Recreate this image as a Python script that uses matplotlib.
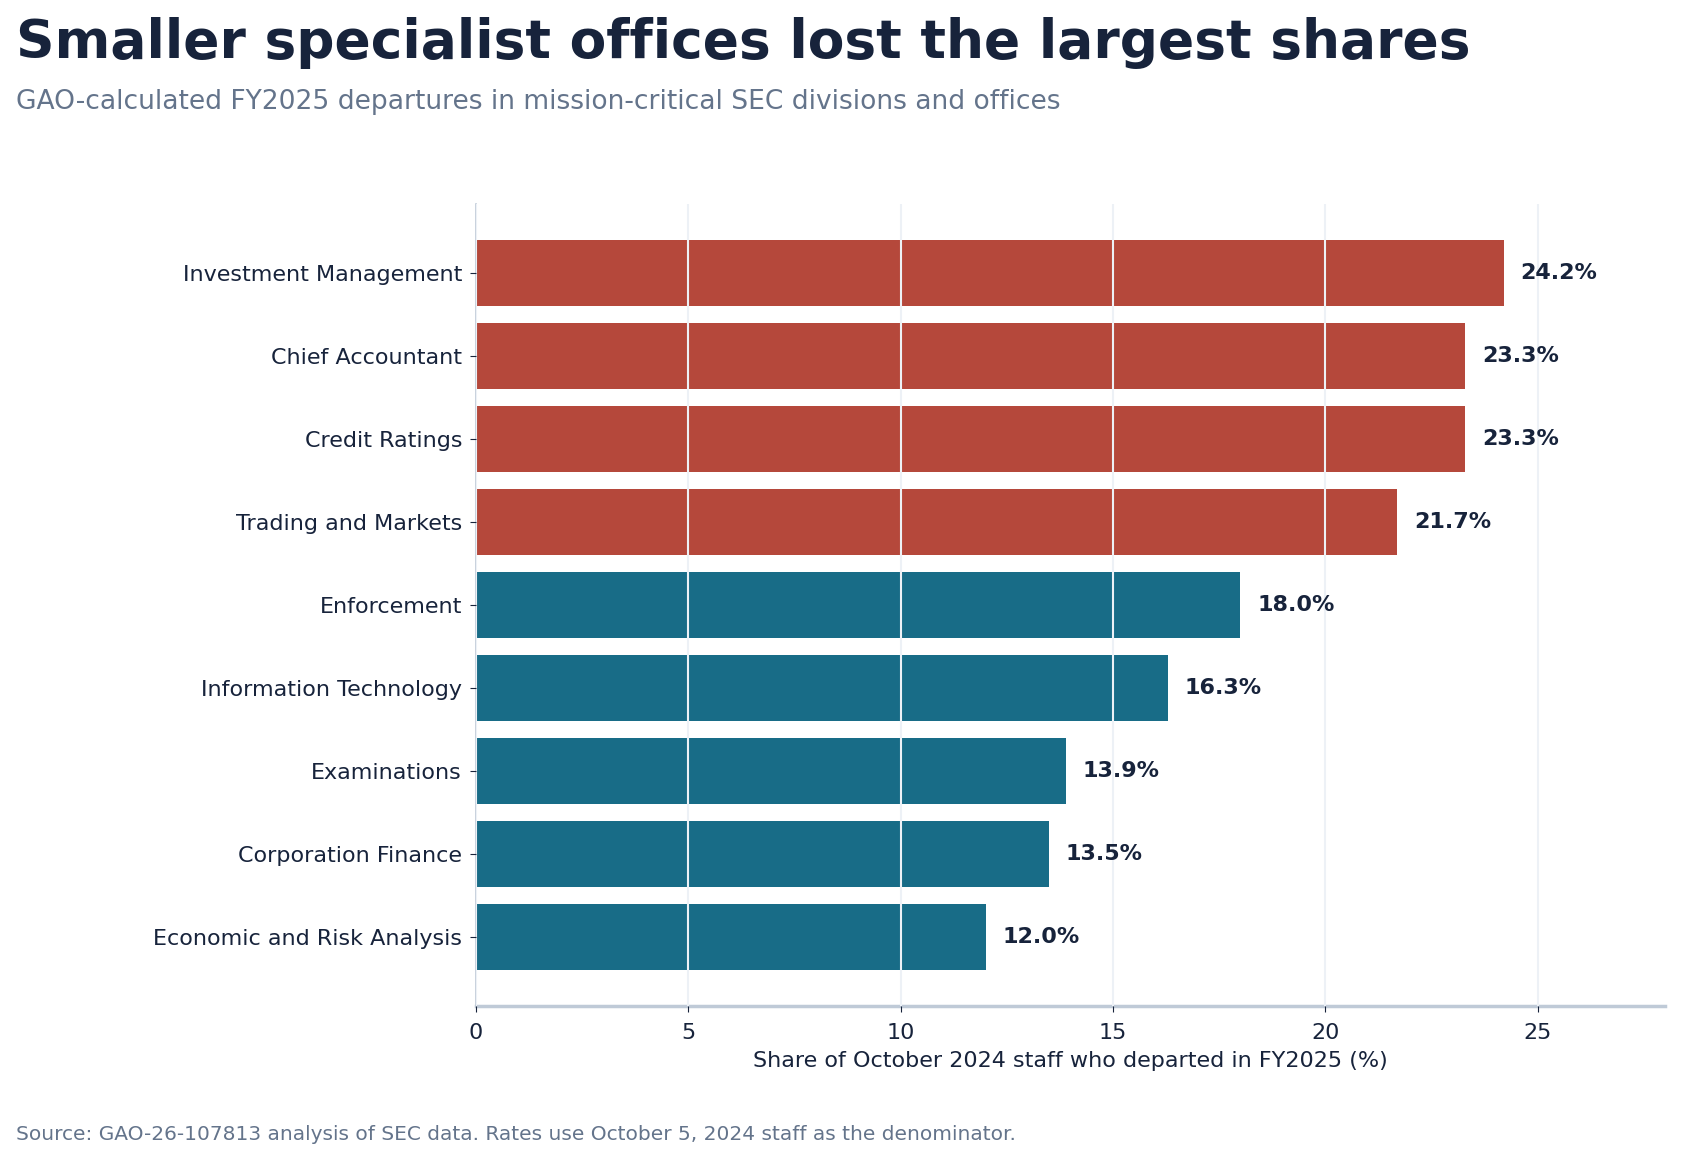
import matplotlib
matplotlib.use("Agg")
import matplotlib.pyplot as plt

offices = ["Investment Management", "Chief Accountant", "Credit Ratings",
           "Trading and Markets", "Enforcement", "Information Technology",
           "Examinations", "Corporation Finance", "Economic and Risk Analysis"]
rates = [24.2, 23.3, 23.3, 21.7, 18.0, 16.3, 13.9, 13.5, 12.0]
highlight = [True, True, True, True, False, False, False, False, False]

red = "#b5483b"
teal = "#186c87"
navy = "#17233b"
grey = "#64748b"
spine = "#bfcad7"

plt.rcParams['font.family'] = ['DejaVu Sans']

fig = plt.figure(figsize=(16.83, 11.62), dpi=100)
ax = fig.add_axes([476 / 1683, 1 - 1006 / 1162, (1665 - 476) / 1683, (1006 - 204) / 1162])

ypos = list(range(len(offices)))
colors = [red if h else teal for h in highlight]
ax.barh(ypos, rates, height=0.8, color=colors, zorder=1)

for y, r in zip(ypos, rates):
    ax.annotate(f"{r:.1f}%", (r, y), xytext=(12, 0), textcoords="offset points",
                va="center", ha="left", fontsize=16, fontweight="bold", color=navy)

ax.set_yticks(ypos)
ax.set_yticklabels(offices, fontsize=16, color=navy)
ax.set_ylim(len(offices) - 1 + 0.835, -0.835)
ax.set_xlim(0, 28)
ax.set_xticks([0, 5, 10, 15, 20, 25])
ax.tick_params(axis="x", labelsize=16, labelcolor=navy, color=navy, length=4, pad=8)
ax.tick_params(axis="y", color=navy, length=4, pad=6)
ax.set_xlabel("Share of October 2024 staff who departed in FY2025 (%)", fontsize=16, color=navy, labelpad=6)

ax.set_axisbelow(False)
ax.grid(axis="x", color="#edf1f6", linewidth=1.5)
ax.grid(axis="y", visible=False)

for s in ["top", "right"]:
    ax.spines[s].set_visible(False)
ax.spines["left"].set_color(spine)
ax.spines["left"].set_linewidth(1.2)
ax.spines["bottom"].set_color(spine)
ax.spines["bottom"].set_linewidth(2.5)

fig.text(16 / 1683, 1 - 58 / 1162, "Smaller specialist offices lost the largest shares",
         fontsize=38.5, fontweight="bold", color=navy, ha="left", va="baseline")
fig.text(16 / 1683, 1 - 109 / 1162, "GAO-calculated FY2025 departures in mission-critical SEC divisions and offices",
         fontsize=19.1, color=grey, ha="left", va="baseline")
fig.text(16 / 1683, 1 - 1135 / 1162, "Source: GAO-26-107813 analysis of SEC data. Rates use October 5, 2024 staff as the denominator.",
         fontsize=14.5, color=grey, ha="left", va="center")

fig.savefig("out.png", dpi=100)
